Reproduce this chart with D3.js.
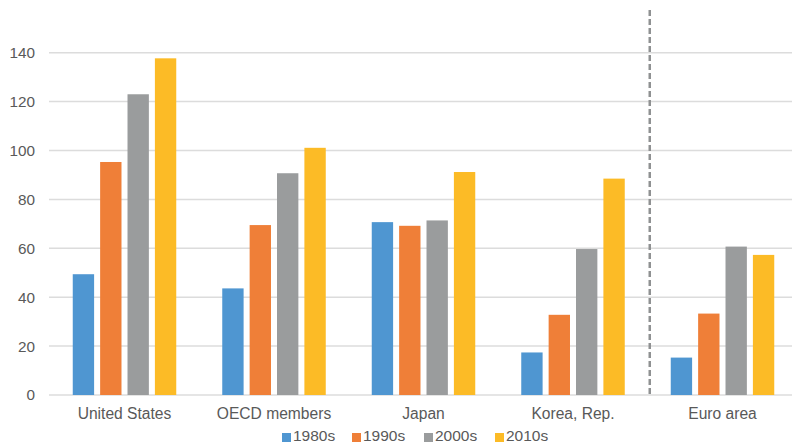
<!DOCTYPE html>
<html><head><meta charset="utf-8">
<script src="https://cdn.jsdelivr.net/npm/d3@7"></script>
<style>
html,body{margin:0;padding:0;background:#fff;}
svg{display:block;font-family:"Liberation Sans",Arial,sans-serif;}
</style></head>
<body><svg id="chart" width="792" height="443"></svg>
<script>
const categories = ["United States","OECD members","Japan","Korea, Rep.","Euro area"];
const seriesNames = ["1980s","1990s","2000s","2010s"];
const v1980s = [49.4, 43.6, 70.7, 17.4, 15.3];
const v1990s = [95.3, 69.5, 69.2, 32.8, 33.3];
const v2000s = [123.0, 90.7, 71.4, 59.7, 60.7];
const v2010s = [137.7, 101.1, 91.2, 88.5, 57.3];
const yTicks = [0,20,40,60,80,100,120,140];
const colors = ["#4f96d1","#ef7f38","#9a9c9d","#fcbb26"];

const values = [v1980s, v1990s, v2000s, v2010s];
const svg = d3.select("#chart");

const x0 = d3.scaleBand().domain(categories).range([49.75, 797.25]);
const x1 = d3.scaleBand().domain(seriesNames).range([23, 126.5]).paddingInner(0.22);
const y = d3.scaleLinear().domain([0,140]).range([395, 52.7]);

// gridlines
svg.append("g").selectAll("line").data(yTicks).join("line")
  .attr("x1", 49).attr("x2", 792)
  .attr("y1", d => y(d)).attr("y2", d => y(d))
  .attr("stroke", "#dcdcdc").attr("stroke-width", 1.5);

// y axis labels
const yAxis = d3.axisLeft(y).tickValues(yTicks).tickSize(0).tickPadding(0);
const ya = svg.append("g").attr("transform","translate(35,0)").call(yAxis);
ya.select(".domain").remove();
ya.selectAll("text").attr("font-size", 15.3).attr("fill", "#595959")
  .attr("font-family", "'Liberation Sans',Arial,sans-serif");

// bars
const groups = svg.append("g").selectAll("g").data(categories).join("g")
  .attr("transform", d => `translate(${x0(d)},0)`);
groups.selectAll("rect")
  .data((c, ci) => seriesNames.map((s, si) => ({s, si, v: values[si][ci]})))
  .join("rect")
  .attr("x", d => x1(d.s))
  .attr("width", x1.bandwidth())
  .attr("y", d => y(d.v))
  .attr("height", d => y(0) - y(d.v))
  .attr("fill", d => colors[d.si]);

// x axis labels
const xAxis = d3.axisBottom(x0).tickSize(0).tickPadding(0);
const xa = svg.append("g").attr("transform", "translate(0,408)").call(xAxis);
xa.select(".domain").remove();
xa.selectAll("text").attr("font-size", 15.6).attr("fill", "#595959")
  .attr("font-family", "'Liberation Sans',Arial,sans-serif")
  .attr("dy", "0.71em");

// dashed separator between Korea and Euro area
const sepX = x0("Euro area") + 2;
svg.append("line").attr("x1", sepX).attr("x2", sepX)
  .attr("y1", 10).attr("y2", y(0))
  .attr("stroke", "#8f9192").attr("stroke-width", 2.5)
  .attr("stroke-dasharray", "6,3");

// legend
const legendX = [282, 352, 424, 495];
const lg = svg.append("g").selectAll("g").data(seriesNames).join("g")
  .attr("transform", (d,i) => `translate(${legendX[i]},0)`);
lg.append("rect").attr("x", 0).attr("y", 433).attr("width", 9).attr("height", 9)
  .attr("fill", (d,i) => colors[i]);
lg.append("text").attr("x", 11).attr("y", 440.5).text(d => d)
  .attr("font-size", 15.5).attr("fill", "#595959");
</script>
</body></html>
